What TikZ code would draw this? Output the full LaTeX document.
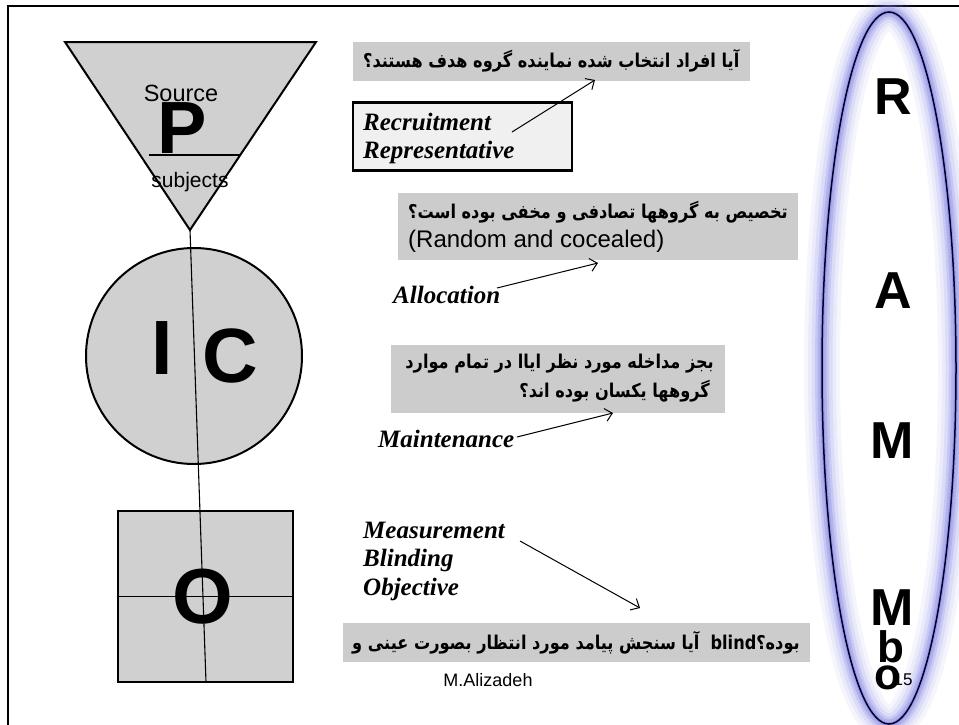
\documentclass[tikz,border=0pt]{standalone}
\usepackage{graphicx}
\usepackage{fontspec}
\setmainfont{Liberation Serif}
\newfontfamily\arabicfont[Script=Arabic]{DejaVu Sans}
\newfontfamily\arialf{Liberation Sans}
\TeXXeTstate=1
\usetikzlibrary{arrows.meta}
\definecolor{shapegray}{RGB}{208,208,208}
\definecolor{boxgray}{RGB}{204,204,204}
\definecolor{recbg}{RGB}{240,240,240}
\definecolor{glow}{RGB}{120,120,225}
\newcommand\fatext[1]{\scalebox{0.85}[1]{\arabicfont\bfseries\fontsize{19}{22}\selectfont #1}}
\begin{document}
\begin{tikzpicture}[x=1pt,y=-1pt,
  shapefill/.style={fill=shapegray, draw=black, line width=2pt},
  fa/.style={inner sep=0},
  lab/.style={font=\bfseries\itshape\fontsize{25}{30}\selectfont, anchor=base west, inner sep=0},
  sans/.style={font=\arialf\fontsize{#1}{#1}\selectfont, inner sep=0},
  big/.style={font=\arialf\bfseries\fontsize{#1}{#1}\selectfont, inner sep=0},
  conn/.style={line width=1pt, -{Straight Barb[length=7pt,width=13pt]}}]
\useasboundingbox (0,0) rectangle (959,724);
% frame
\draw[line width=2.5pt] (8,730) -- (8,6) -- (965,6);
% triangle P
\draw[shapefill] (65,42) -- (316,42) -- (190,230) -- cycle;
\coordinate (apex) at (190,230);
\draw[line width=1.5pt] (149,155) -- (241,155);
\node[sans=23.5] (src) at (181,93) {Source};
\node[big=74] (P) at (182,128) {P};
\node[sans=21] (subj) at (190,182) {subjects};
% circle IC
\node[circle, shapefill, minimum size=216pt] (ic) at (194,356) {};
\node[big=77] (I) at (162,348) {I};
\node[big=77] (C) at (230,356) {C};
% box O
\node[rectangle, shapefill, line width=2.5pt, minimum width=175pt, minimum height=171pt] (obox) at (205.5,596.5) {};
\draw[line width=1.5pt] (obox.west) -- (obox.east);
\node[big=78] (O) at (203,597) {O};
\coordinate (obot) at (206,682);
\draw[line width=1.1pt] (apex) -- (obot);
% question box 1
\path node[fa, anchor=west] (q1) at (363,61) {\fatext{\beginR آیا افراد انتخاب شده نماینده گروه هدف هستند؟\endR}};
\fill[boxgray] (353,42) rectangle ([xshift=10pt]q1.east |- 0,81);
\node[fa, anchor=west] (q1b) at (363,61) {\fatext{\beginR آیا افراد انتخاب شده نماینده گروه هدف هستند؟\endR}};
\node[draw, line width=2.5pt, fill=recbg, minimum width=219pt, minimum height=68pt] (rec) at (462.5,136.5) {};
\node[lab] (r1) at (363,130) {Recruitment};
\node[lab] (r2) at (363,158) {Representative};
\coordinate (a1s) at (512,132);
\coordinate (a1e) at (595,80);
\draw[conn] (a1s) -- (a1e);
% question box 2
\path node[fa, anchor=west] (q2) at (408,212) {\fatext{\beginR تخصیص به گروهها تصادفی و مخفی بوده است؟\endR}};
\fill[boxgray] (398,193) rectangle ([xshift=10pt]q2.east |- 0,260);
\node[fa, anchor=west] (q2c) at (408,212) {\fatext{\beginR تخصیص به گروهها تصادفی و مخفی بوده است؟\endR}};
\node[sans=24, anchor=west] (q2b) at (408,241) {(Random and cocealed)};
\node[lab] (alloc) at (393,303) {Allocation};
\coordinate (a2s) at (497,288);
\coordinate (a2e) at (598,263);
\draw[conn] (a2s) -- (a2e);
% question box 3
\fill[boxgray] (391,345) rectangle (725,413);
\node[fa, anchor=east] (q3a) at (714,364) {\fatext{\beginR بجز مداخله مورد نظر ایاا در تمام موارد\endR}};
\node[fa, anchor=east] (q3b) at (710,391) {\fatext{\beginR گروهها یکسان بوده اند؟\endR}};
\node[lab] (maint) at (378,447) {Maintenance};
\coordinate (a3s) at (517,437);
\coordinate (a3e) at (613,413);
\draw[conn] (a3s) -- (a3e);
% measurement
\node[lab] (m1) at (363,538) {Measurement};
\node[lab] (m2) at (363,566) {Blinding};
\node[lab] (m3) at (363,595) {Objective};
\coordinate (a4s) at (520,541);
\coordinate (a4e) at (640,608);
\draw[conn] (a4s) -- (a4e);
% question box 4
\path node[fa, anchor=west] (q4) at (352,643) {\fatext{\beginR آیا سنجش پیامد مورد انتظار بصورت عینی و\endR\ \ blind\beginR بوده؟\endR}};
\fill[boxgray] (343,623) rectangle ([xshift=10pt]q4.east |- 0,662);
\node[fa, anchor=west] (q4b) at (352,643) {\fatext{\beginR آیا سنجش پیامد مورد انتظار بصورت عینی و\endR\ \ blind\beginR بوده؟\endR}};
\node[sans=18] (auth) at (488,680) {M.Alizadeh};
% RAMM ellipse
\foreach \w/\o in {36/0.07, 28/0.09, 21/0.13, 14/0.2, 9/0.28, 4/0.4}
  \draw[glow, line width=\w pt, opacity=\o] (889,368) ellipse [x radius=67, y radius=356];
\draw[line width=1.5pt, black!85!blue] (889,368) ellipse [x radius=67, y radius=356];
\node[sans=17] (pg) at (903,680) {15};
\node[big=52] (R) at (893,97) {R};
\node[big=52] (A) at (893,291) {A};
\node[big=52] (M1) at (892,441) {M};
\node[big=52] (M2) at (892,608) {M};
\node[big=44] (bb) at (891,647) {b};
\node[big=44] (oo) at (888,678) {o};
\end{tikzpicture}
\end{document}
